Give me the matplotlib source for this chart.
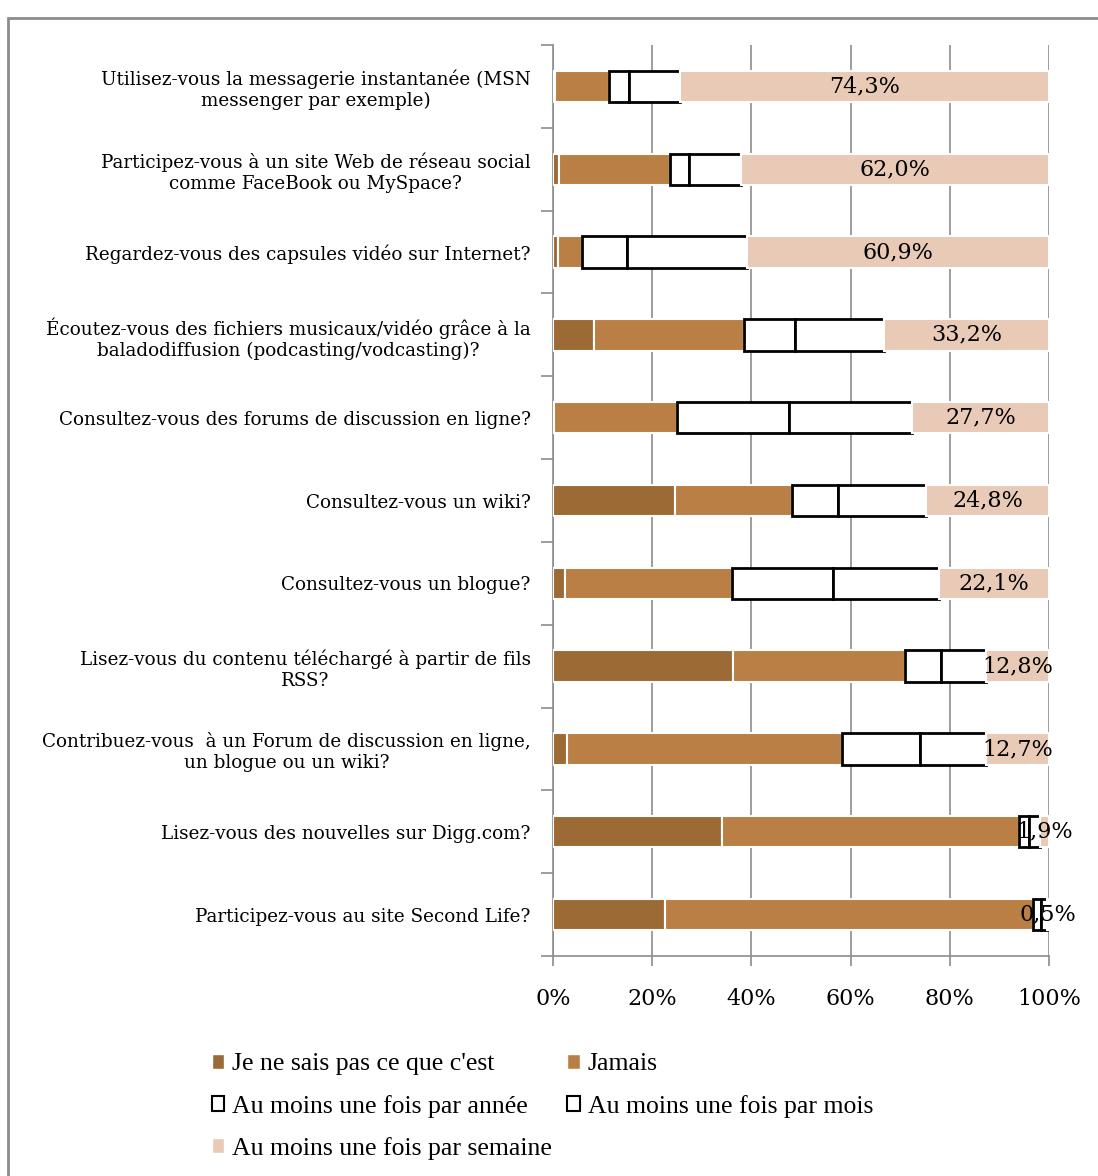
import numpy as np
import matplotlib
matplotlib.use('Agg')
import matplotlib.pyplot as plt
from matplotlib.patches import Rectangle, Patch

plt.rcParams['font.family'] = ['DejaVu Serif']

# questions, top to bottom
questions = [
    "Utilisez-vous la messagerie instantanée (MSN\nmessenger par exemple)",
    "Participez-vous à un site Web de réseau social\ncomme FaceBook ou MySpace?",
    "Regardez-vous des capsules vidéo sur Internet?",
    "Écoutez-vous des fichiers musicaux/vidéo grâce à la\nbaladodiffusion (podcasting/vodcasting)?",
    "Consultez-vous des forums de discussion en ligne?",
    "Consultez-vous un wiki?",
    "Consultez-vous un blogue?",
    "Lisez-vous du contenu téléchargé à partir de fils\nRSS?",
    "Contribuez-vous  à un Forum de discussion en ligne,\nun blogue ou un wiki?",
    "Lisez-vous des nouvelles sur Digg.com?",
    "Participez-vous au site Second Life?",
]

series_names = ["Je ne sais pas ce que c'est", "Jamais",
                "Au moins une fois par année", "Au moins une fois par mois",
                "Au moins une fois par semaine"]

ne_sais_pas = [0.5, 1.2, 1.0, 8.3, 0.3, 24.6, 2.4, 36.2, 2.8, 34.0, 22.5]
jamais      = [10.8, 22.4, 4.8, 30.2, 24.8, 23.5, 33.6, 34.8, 55.5, 60.0, 74.3]
annee       = [4.0, 3.8, 9.1, 10.3, 22.4, 9.3, 20.5, 7.2, 15.7, 2.0, 1.5]
mois        = [10.4, 10.6, 24.2, 18.0, 24.8, 17.8, 21.4, 9.0, 13.3, 2.1, 1.2]
semaine     = [74.3, 62.0, 60.9, 33.2, 27.7, 24.8, 22.1, 12.8, 12.7, 1.9, 0.5]

x_ticks = [0, 20, 40, 60, 80, 100]
x_tick_labels = ['0%', '20%', '40%', '60%', '80%', '100%']

c_dark = '#9c6a35'
c_tan = '#b97f44'
c_pink = '#e8cab6'

fig = plt.figure(figsize=(10.98, 11.76), dpi=100)
fig.patches.append(Rectangle((0.0073, -0.01), 1.1, 0.9947, transform=fig.transFigure,
                             fill=False, edgecolor='#8c8c8c', linewidth=2))

ax = fig.add_axes([0.5036, 0.1871, 0.4518, 0.7746])

y = np.arange(len(questions))
h = 0.38
left = np.zeros(len(questions))
data = [ne_sais_pas, jamais, annee, mois, semaine]
styles = [
    dict(color=c_dark, edgecolor='white', linewidth=1.5),
    dict(color=c_tan, edgecolor='white', linewidth=1.5),
    dict(color='white', edgecolor='black', linewidth=2),
    dict(color='white', edgecolor='black', linewidth=2),
    dict(color=c_pink, edgecolor='white', linewidth=1.5),
]
for vals, st in zip(data, styles):
    vals = np.array(vals)
    ax.barh(y, vals, left=left, height=h, zorder=3, **st)
    left = left + vals

# labels on the weekly segment
start = 100 - np.array(semaine)
for i, v in enumerate(semaine):
    ax.text(start[i] + v / 2, y[i], ('%.1f%%' % v).replace('.', ','),
            ha='center', va='center', fontsize=16, zorder=5)

ax.set_xlim(0, 100)
ax.set_ylim(len(questions) - 0.5, -0.5)
ax.set_xticks(x_ticks)
ax.set_xticklabels(x_tick_labels, fontsize=16)
ax.set_yticks(y)
ax.set_yticklabels(questions, fontsize=13.2, multialignment='center')
ax.set_yticks(np.arange(-0.5, len(questions)), minor=True)
ax.tick_params(axis='y', which='major', length=0, pad=16)
ax.tick_params(axis='y', which='minor', length=9, color='#8c8c8c', width=1.2)
ax.tick_params(axis='x', length=7, color='#8c8c8c', width=1.2, pad=16)

ax.grid(axis='x', color='#8c8c8c', linewidth=1.2)
ax.set_axisbelow(True)
for s in ['top', 'right']:
    ax.spines[s].set_visible(False)
for s in ['left', 'bottom']:
    ax.spines[s].set_color('#8c8c8c')
    ax.spines[s].set_linewidth(1.2)

handles = [Patch(facecolor=c_dark, edgecolor='white'),
           Patch(facecolor=c_tan, edgecolor='white'),
           Patch(facecolor='white', edgecolor='black', linewidth=1.5),
           Patch(facecolor='white', edgecolor='black', linewidth=1.5),
           Patch(facecolor=c_pink, edgecolor='white')]
order = [0, 2, 4, 1, 3]
fig.legend([handles[i] for i in order], [series_names[i] for i in order],
           loc='upper center', bbox_to_anchor=(0.494, 0.124), ncol=2,
           frameon=False, handlelength=0.5, handleheight=0.5,
           handletextpad=0.3, columnspacing=0.6, labelspacing=0.75,
           prop={'family': 'Liberation Serif', 'size': 18.5})

fig.savefig('out.png', dpi=100)
